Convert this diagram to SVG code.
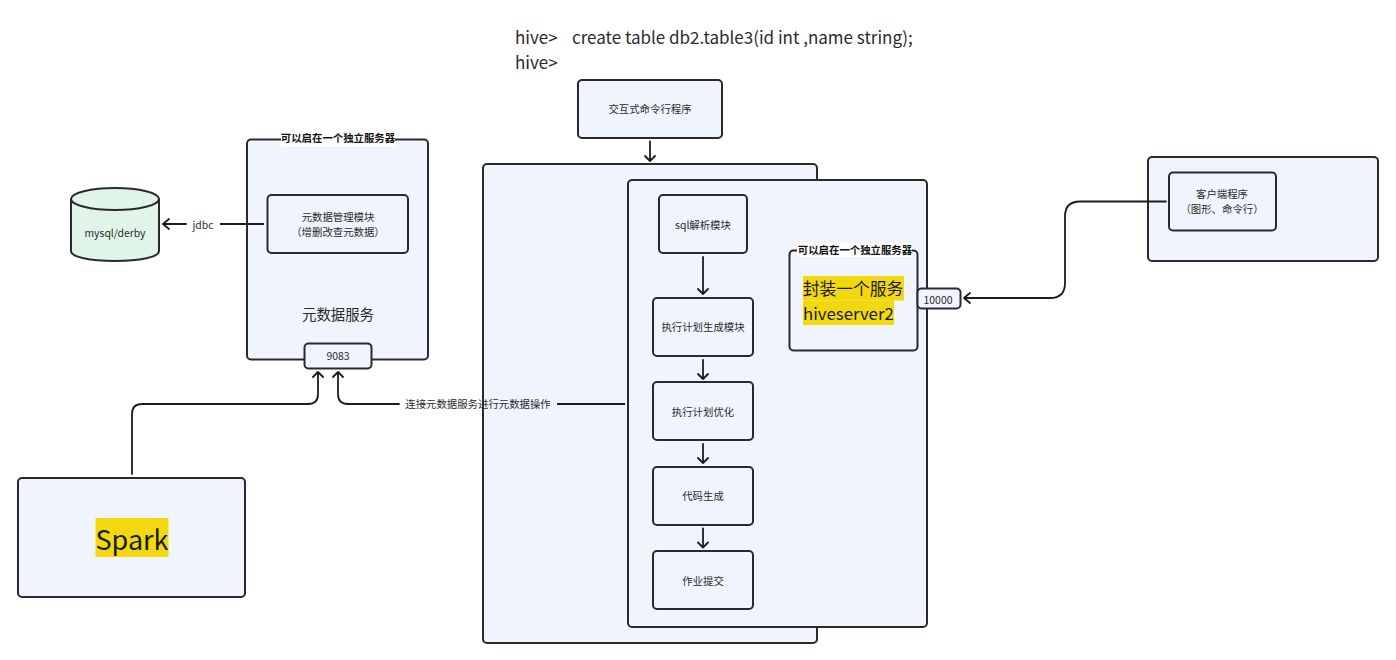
<svg xmlns="http://www.w3.org/2000/svg" width="1396" height="660" viewBox="0 0 1396 660">
<style>
text{font-family:"Noto Sans CJK SC","Noto Sans",sans-serif;fill:#2b2b2b;text-anchor:middle}
.b{fill:#eff4fd;stroke:#2a2a2e;stroke-width:2}
.t{font-size:10.4px}
.h{font-size:17px;text-anchor:start}
.s{font-size:10.4px;font-weight:700;fill:#111}
.c{fill:none;stroke:#1c1c1c;stroke-width:1.800}
.a{fill:none;stroke:#1c1c1c;stroke-width:1.800;stroke-linecap:round;stroke-linejoin:round}
</style>
<rect width="1396" height="660" fill="#fff"/>
<g id="cmd-text">
<text class="h" x="515" y="44">hive&gt;</text><text class="h" x="572" y="44">create table db2.table3(id int ,name string);</text>
<text class="h" x="515" y="69">hive&gt;</text>
</g>
<g id="hive-outer"><rect class="b" x="483" y="164" width="334" height="479" rx="4"/></g>
<g id="hive-inner"><rect class="b" x="628" y="180" width="299" height="447" rx="4"/></g>
<g id="meta-service">
<rect class="b" x="247" y="139.500" width="181" height="220" rx="4"/>
<rect x="281" y="133" width="114" height="14" fill="#fff"/>
<text class="s" x="338" y="142">可以启在一个独立服务器</text>
<text x="338" y="320" font-size="14.400">元数据服务</text>
</g>
<g id="meta-module"><rect class="b" x="267.500" y="195" width="140.500" height="58" rx="4"/>
<text class="t" x="338" y="221">元数据管理模块</text><text class="t" x="338" y="236">（增删改查元数据）</text></g>
<g id="port-9083"><rect class="b" x="304.500" y="343.500" width="67" height="25" rx="4"/><text class="t" x="338" y="360">9083</text></g>
<g id="mysql">
<path d="M71 199V251C71 257 90 261 115 261S159 257 159 251V199Z" fill="#e0f5e7" stroke="#2a2a2e" stroke-width="2"/>
<ellipse cx="115" cy="199" rx="44" ry="11" fill="#e0f5e7" stroke="#2a2a2e" stroke-width="2"/>
<text class="t" x="115" y="237">mysql/derby</text>
</g>
<g id="cli"><rect class="b" x="578" y="80" width="144" height="58" rx="4"/><text class="t" x="650" y="113">交互式命令行程序</text></g>
<g id="sql-parse"><rect class="b" x="659" y="195" width="88" height="58" rx="4"/><text class="t" x="703" y="229">sql解析模块</text></g>
<g id="plan-gen"><rect class="b" x="653" y="298" width="100" height="58" rx="4"/><text class="t" x="703" y="331">执行计划生成模块</text></g>
<g id="plan-opt"><rect class="b" x="653" y="382" width="100" height="58" rx="4"/><text class="t" x="703" y="416">执行计划优化</text></g>
<g id="codegen"><rect class="b" x="653" y="467" width="100" height="58" rx="4"/><text class="t" x="703" y="500">代码生成</text></g>
<g id="submit"><rect class="b" x="653" y="551" width="100" height="58" rx="4"/><text class="t" x="703" y="585">作业提交</text></g>
<g id="hiveserver2">
<rect class="b" x="789.500" y="250.500" width="128" height="100" rx="4"/>
<rect x="797" y="243" width="115" height="14" fill="#fff"/>
<text class="s" x="855" y="254">可以启在一个独立服务器</text>
<rect x="803" y="276" width="101" height="24.500" fill="#f2d90f"/>
<rect x="803" y="300.500" width="91" height="24.500" fill="#f2d90f"/>
<text x="853" y="295" font-size="16.800" style="fill:#1a1a1a">封装一个服务</text>
<text x="803" y="320" font-size="16.800" style="text-anchor:start;fill:#1a1a1a">hiveserver2</text>
</g>
<g id="port-10000"><rect class="b" x="917.500" y="288.500" width="43" height="20" rx="4"/><text class="t" x="938" y="304">10000</text></g>
<g id="client-outer"><rect class="b" x="1148" y="157" width="230" height="104" rx="4"/></g>
<g id="client"><rect class="b" x="1169" y="172.500" width="107" height="58" rx="4"/>
<text class="t" x="1222" y="198">客户端程序</text><text class="t" x="1222" y="213">（图形、命令行）</text></g>
<g id="spark"><rect class="b" x="18" y="478" width="227" height="119" rx="4"/>
<rect x="95.500" y="518" width="73" height="39" fill="#f2d90f"/>
<text x="132" y="550" font-size="27" style="fill:#1a1a1a">Spark</text></g>
<g id="connectors">
<path class="c" d="M264 224H220"/>
<path class="a" d="M186 224H163M169 219L163 224L169 229"/>
<text class="t" x="203" y="229">jdbc</text>
<path class="a" d="M650 141.500V161M645 156L650 161L655 156"/>
<path class="a" d="M703 257V294M698 289L703 294L708 289"/>
<path class="a" d="M703 360V379M698 374L703 379L708 374"/>
<path class="a" d="M703 444V463M698 458L703 463L708 458"/>
<path class="a" d="M703 528.500V547.500M698 542.500L703 547.500L708 542.500"/>
<path class="a" d="M132 474V414Q132 404 142 404H308Q318 404 318 394V372M313 377L318 372L323 377"/>
<path class="a" d="M399 404H348Q338 404 338 394V372M333 377L338 372L343 377"/>
<path class="c" d="M625 404H557"/>
<text class="t" x="478" y="408">连接元数据服务进行元数据操作</text>
<path class="a" d="M1166 201.500H1080Q1065 201.500 1065 216.500V283Q1065 298 1050 298H964M970 293L964 298L970 303"/>
</g>
</svg>
